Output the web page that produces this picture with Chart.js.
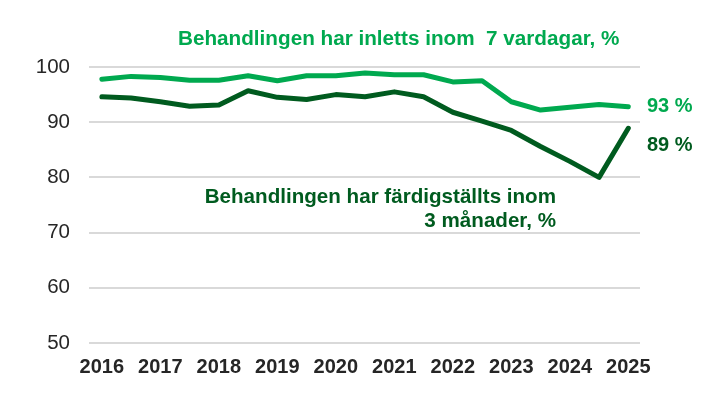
<!DOCTYPE html>
<html><head><meta charset="utf-8">
<script src="https://cdn.jsdelivr.net/npm/chart.js@4/dist/chart.umd.min.js"></script>
<style>html,body{margin:0;padding:0;background:#fff}#wrap{width:719px;height:395px;position:relative}</style>
</head><body><div id="wrap"><canvas id="c" width="719" height="395"></canvas></div>
<script>
const periods = [2016,2016.5,2017,2017.5,2018,2018.5,2019,2019.5,2020,2020.5,2021,2021.5,2022,2022.5,2023,2023.5,2024,2024.5,2025];
const tickYears = [2016,2017,2018,2019,2020,2021,2022,2023,2024,2025];
const started7Days = [97.8,98.3,98.1,97.6,97.6,98.4,97.5,98.4,98.4,98.9,98.6,98.6,97.3,97.5,93.7,92.2,92.7,93.2,92.8];
const finished3Months = [94.6,94.4,93.7,92.9,93.1,95.7,94.5,94.1,95.0,94.6,95.5,94.6,91.8,90.2,88.5,85.6,82.9,80.0,88.9];
const labelStarted = "Behandlingen har inletts inom  7 vardagar, %";
const labelFinished = ["Behandlingen har färdigställts inom", "3 månader, %"];
const endLabels = ["93 %", "89 %"];

const LIGHT = "#00A94F", DARK = "#005B1F";
const FONT = "'Liberation Sans', Arial, sans-serif";

const textPlugin = {
  id: 'texts',
  afterDraw(chart) {
    const ctx = chart.ctx;
    ctx.save();
    ctx.textBaseline = "alphabetic";
    ctx.font = "bold 20.7px " + FONT;
    ctx.fillStyle = LIGHT;
    ctx.textAlign = "left";
    ctx.fillText(labelStarted, 178, 45);
    ctx.font = "bold 20px " + FONT;
    ctx.fillText(endLabels[0], 647, 112);
    ctx.fillStyle = DARK;
    ctx.fillText(endLabels[1], 647, 151);
    ctx.font = "bold 20.6px " + FONT;
    ctx.textAlign = "right";
    ctx.fillText(labelFinished[0], 556, 203);
    ctx.fillText(labelFinished[1], 556, 227);
    ctx.restore();
  }
};

new Chart(document.getElementById('c'), {
  type: 'line',
  data: {
    datasets: [
      { label: labelStarted, data: periods.map((p,i)=>({x:p,y:started7Days[i]})), borderColor: LIGHT, borderWidth: 5, pointRadius: 0, tension: 0, borderJoinStyle: 'round', borderCapStyle: 'round' },
      { label: labelFinished.join(' '), data: periods.map((p,i)=>({x:p,y:finished3Months[i]})), borderColor: DARK, borderWidth: 5, pointRadius: 0, tension: 0, borderJoinStyle: 'round', borderCapStyle: 'round' }
    ]
  },
  options: {
    responsive: false,
    animation: false,
    layout: { padding: { left: 0, right: 79, top: 67, bottom: 0 } },
    plugins: { legend: { display: false }, tooltip: { enabled: false } },
    scales: {
      x: {
        type: 'linear', min: 2015.78, max: 2025.2,
        afterBuildTicks(s) { s.ticks = tickYears.map(v => ({ value: v })); },
        afterFit(s) { s.height = 52; },
        grid: { display: false, drawTicks: false },
        border: { display: false },
        ticks: { color: '#262626', font: { family: FONT, size: 20, weight: 'bold' }, padding: 12, maxRotation: 0, autoSkip: false, callback: v => String(v) }
      },
      y: {
        min: 50, max: 100,
        afterBuildTicks(s) { s.ticks = [50,60,70,80,90,100].map(v => ({ value: v })); },
        afterFit(s) { s.width = 89; },
        grid: { color: '#d9d9d9', lineWidth: 2, drawTicks: false },
        border: { display: false },
        ticks: { color: '#262626', font: { family: FONT, size: 20.5 }, padding: 19 }
      }
    }
  },
  plugins: [textPlugin]
});
</script></body></html>
